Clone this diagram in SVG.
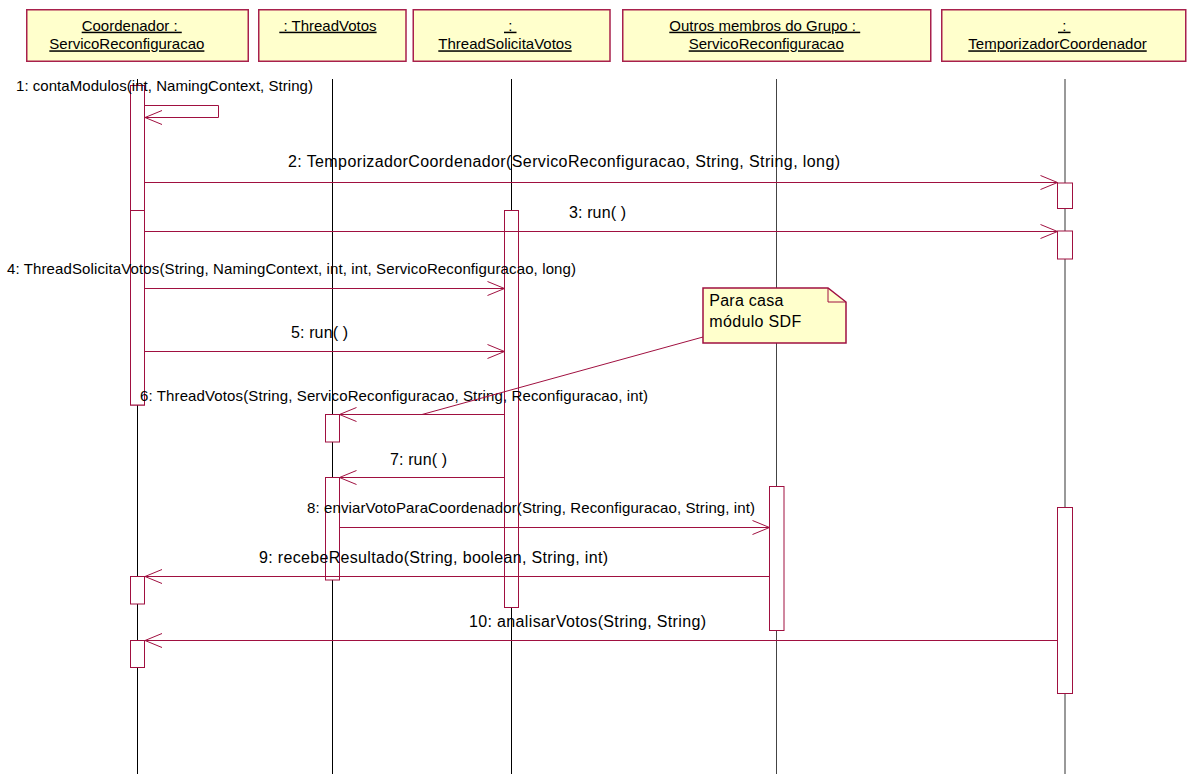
<svg xmlns="http://www.w3.org/2000/svg" width="1187" height="774" viewBox="0 0 1187 774">
  <style>
    .hdr{fill:#FFFFCC;stroke:#A8204C;stroke-width:1.5}
    .ht{font-family:"Liberation Sans",Arial,sans-serif;font-size:15px;fill:#000;text-decoration:underline}
    .life{stroke:#000;stroke-width:1;fill:none}
    .act{fill:#fff;stroke:#A01040;stroke-width:1}
    .msg{stroke:#A01040;stroke-width:1;fill:none;marker-end:url(#open)}
    .lbl{font-family:"Liberation Sans",Arial,sans-serif;font-size:15px;fill:#000}
    .big{font-size:16px}
    .note{fill:#FFFFCC;stroke:#A01040;stroke-width:1.5}
  </style>
  <defs>
    <marker id="open" viewBox="0 0 20 16" markerWidth="20" markerHeight="16" refX="18" refY="8" orient="auto" markerUnits="userSpaceOnUse">
      <path d="M1,1 L18,8 L1,15" fill="none" stroke="#A01040" stroke-width="1"/>
    </marker>
  </defs>
  <rect width="1187" height="774" fill="#fff"/>

  <!-- Coordenador : ServicoReconfiguracao -->
  <g id="coordenador">
    <rect class="hdr" x="26.75" y="9.75" width="221.5" height="51.5"/>
    <text class="ht" x="81.7" y="30.7" xml:space="preserve">Coordenador : </text>
    <text class="ht" x="49.3" y="49.3">ServicoReconfiguracao</text>
    <line class="life" x1="137.5" y1="79" x2="137.5" y2="774"/>
    <rect class="act" x="130.5" y="85.5" width="14" height="319.5"/>
    <rect class="act" x="130.5" y="210.5" width="14" height="194.5"/>
    <rect class="act" x="130.5" y="576.5" width="14" height="27.5"/>
    <rect class="act" x="130.5" y="640.5" width="14" height="27"/>
  </g>

  <!-- : ThreadVotos -->
  <g id="threadVotos">
    <rect class="hdr" x="258.75" y="9.75" width="147.25" height="51.5"/>
    <text class="ht" x="279.3" y="30.7" xml:space="preserve"> : ThreadVotos</text>
    <line class="life" x1="332.5" y1="79" x2="332.5" y2="774"/>
    <rect class="act" x="325.5" y="414.5" width="14" height="27.5"/>
    <rect class="act" x="325.5" y="477.5" width="14" height="102.5"/>
  </g>

  <!-- : ThreadSolicitaVotos -->
  <g id="threadSolicitaVotos">
    <rect class="hdr" x="413.25" y="9.75" width="196.75" height="51.5"/>
    <text class="ht" x="504" y="30.7" xml:space="preserve"> : </text>
    <text class="ht" x="438.3" y="49.3">ThreadSolicitaVotos</text>
    <line class="life" x1="511.5" y1="79" x2="511.5" y2="774"/>
    <rect class="act" x="504.5" y="210.5" width="14" height="397"/>
  </g>

  <!-- Outros membros do Grupo : ServicoReconfiguracao -->
  <g id="outrosMembros">
    <rect class="hdr" x="622.75" y="9.75" width="308" height="51.5"/>
    <text class="ht" x="669.3" y="30.7" xml:space="preserve">Outros membros do Grupo : </text>
    <text class="ht" x="688.7" y="49.3">ServicoReconfiguracao</text>
    <line class="life" x1="776.5" y1="79" x2="776.5" y2="774" style="stroke:#444"/>
    <rect class="act" x="769.5" y="486.5" width="14.5" height="144"/>
  </g>

  <!-- : TemporizadorCoordenador -->
  <g id="temporizador">
    <rect class="hdr" x="941.75" y="9.75" width="244" height="51.5"/>
    <text class="ht" x="1058" y="30.7" xml:space="preserve"> : </text>
    <text class="ht" x="968.3" y="49.3">TemporizadorCoordenador</text>
    <line class="life" x1="1065" y1="79" x2="1065" y2="774" style="stroke:#555;stroke-width:1.2"/>
    <rect class="act" x="1057.5" y="183" width="15" height="25.5"/>
    <rect class="act" x="1057.5" y="231" width="15" height="28"/>
    <rect class="act" x="1057.5" y="507.5" width="15" height="186"/>
  </g>

  <!-- Messages -->
  <g id="connectors">
    <path class="msg" d="M144.5,105.5 H218.5 V117.5 H145"/>
    <line class="msg" x1="144.5" y1="182.5" x2="1057.5" y2="182.5"/>
    <line class="msg" x1="144.5" y1="231.5" x2="1057.5" y2="231.5"/>
    <line class="msg" x1="144.5" y1="288.5" x2="504.5" y2="288.5"/>
    <line class="msg" x1="144.5" y1="351.5" x2="504.5" y2="351.5"/>
    <line class="msg" x1="504.5" y1="414.5" x2="339.5" y2="414.5"/>
    <line class="msg" x1="504.5" y1="477.5" x2="339.5" y2="477.5"/>
    <line class="msg" x1="339.5" y1="527.5" x2="769.5" y2="527.5"/>
    <line class="msg" x1="769.5" y1="576.5" x2="145" y2="576.5"/>
    <line class="msg" x1="1057.5" y1="640.5" x2="145" y2="640.5"/>

    <text class="lbl" x="16" y="90.5" textLength="297" lengthAdjust="spacing">1: contaModulos(int, NamingContext, String)</text>
    <text class="lbl big" x="288" y="167" textLength="552" lengthAdjust="spacing">2: TemporizadorCoordenador(ServicoReconfiguracao, String, String, long)</text>
    <text class="lbl big" x="569" y="218" textLength="57" lengthAdjust="spacing">3: run( )</text>
    <text class="lbl" x="7" y="273.5" textLength="569" lengthAdjust="spacing">4: ThreadSolicitaVotos(String, NamingContext, int, int, ServicoReconfiguracao, long)</text>
    <text class="lbl big" x="291" y="338" textLength="57" lengthAdjust="spacing">5: run( )</text>
    <text class="lbl" x="140" y="400.5" textLength="508" lengthAdjust="spacing">6: ThreadVotos(String, ServicoReconfiguracao, String, Reconfiguracao, int)</text>
    <text class="lbl big" x="390" y="465" textLength="57" lengthAdjust="spacing">7: run( )</text>
    <text class="lbl" x="307" y="513" textLength="448" lengthAdjust="spacing">8: enviarVotoParaCoordenador(String, Reconfiguracao, String, int)</text>
    <text class="lbl big" x="259" y="563" textLength="349" lengthAdjust="spacing">9: recebeResultado(String, boolean, String, int)</text>
    <text class="lbl big" x="469" y="627" textLength="237" lengthAdjust="spacing">10: analisarVotos(String, String)</text>

    <!-- note anchor -->
    <line x1="703" y1="337" x2="422" y2="414.5" stroke="#A01040" stroke-width="1"/>
  </g>

  <!-- Note -->
  <g id="note">
    <path class="note" d="M703,288 H828 L846,302 V343 H703 Z"/>
    <path d="M828,288 V302 H846" fill="none" stroke="#A01040" stroke-width="1"/>
    <text class="lbl big" x="709.3" y="305.5" textLength="74" lengthAdjust="spacing">Para casa</text>
    <text class="lbl big" x="709.3" y="326.5" textLength="92" lengthAdjust="spacing">módulo SDF</text>
  </g>
</svg>
